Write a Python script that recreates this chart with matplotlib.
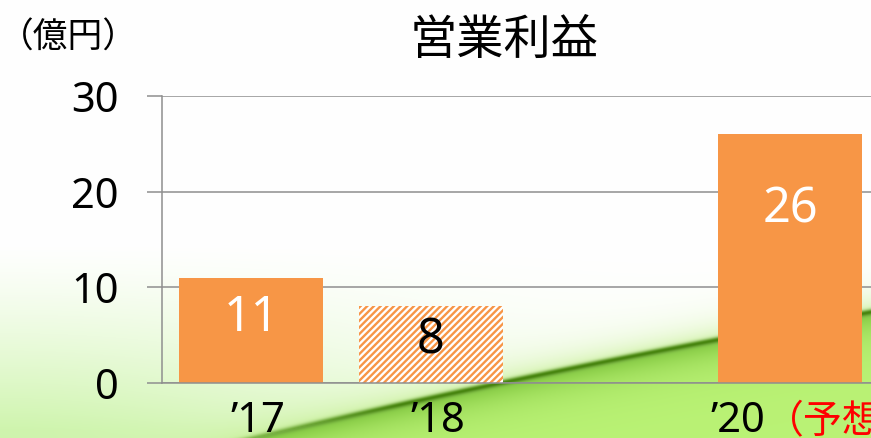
import matplotlib
matplotlib.use("Agg")
import matplotlib.pyplot as plt
import numpy as np

plt.rcParams["font.family"] = ["Noto Sans", "Noto Sans CJK JP", "DejaVu Sans"]
plt.rcParams["hatch.linewidth"] = 1.7

# Operating profit (100M yen) by fiscal year; '19 has no bar
years = ["’17", "’18", "’19", "’20"]
profit = [11, 8, np.nan, 26]
forecast_note = "（予想）"
yticks = [0, 10, 20, 30]

ORANGE = "#F79646"
GRID = "#8f8f8f"

W, H = 871, 438
fig = plt.figure(figsize=(W / 100, H / 100), dpi=100)

# green swoosh backdrop
yy, xx = np.mgrid[0:H, 0:W].astype(float)
line_y = 382 - 0.21 * (xx - 503) + 5e-5 * (xx - 503) ** 2
d = yy - line_y
img = np.ones((H, W, 3))

haze = np.clip((yy - 240) / 190, 0, 1) ** 1.3 * np.exp(-(xx / 460) ** 2)
img = img * (1 - haze[..., None]) + np.array([0.81, 0.96, 0.68]) * haze[..., None]

tint = np.where(d < 0, np.exp(np.minimum(d, 0) / 16), 0) * 0.8
img = img * (1 - tint[..., None]) + np.array([0.78, 0.94, 0.58]) * tint[..., None]

below = 1 / (1 + np.exp(-d / 1.5))
shade = np.exp(-np.maximum(d, 0) / 18)
ground = (np.array([0.73, 0.95, 0.46]) * (1 - shade[..., None])
          + np.array([0.48, 0.76, 0.22]) * shade[..., None])
img = img * (1 - below[..., None]) + ground * below[..., None]

core = np.exp(-(d / 3.0) ** 2) * np.clip((xx - 150) / 250, 0, 1)
img = img * (1 - core[..., None]) + np.array([0.28, 0.52, 0.06]) * core[..., None]

bg = fig.add_axes([0, 0, 1, 1], zorder=0)
bg.imshow(np.clip(img, 0, 1), aspect="auto", interpolation="bilinear")
bg.axis("off")

# chart area
left, bottom, top = 161.5 / W, (H - 383) / H, (H - 96) / H
ax = fig.add_axes([left, bottom, 1 - left, top - bottom], zorder=1)
ax.patch.set_alpha(0)

x = np.arange(len(years))
styles = [
    dict(color=ORANGE),
    dict(facecolor="white", edgecolor=ORANGE, hatch="/////", linewidth=0),
    dict(color=ORANGE),
    dict(color=ORANGE),
]
label_colors = ["white", "black", "white", "white"]
label_drop = [29, 24.5, 0, 54]  # points below the bar top

for i, (xi, v) in enumerate(zip(x, profit)):
    if np.isnan(v):
        continue
    ax.bar(xi, v, width=0.8, zorder=1, **styles[i])
    ax.annotate(f"{v:g}", xy=(xi, v), xytext=(0, -label_drop[i]),
                textcoords="offset points", ha="center", va="center",
                fontsize=35, color=label_colors[i])

ax.set_xlim(-0.5, 3.45)
ax.set_ylim(0, 30)
ax.set_yticks(yticks)
ax.set_xticks([])
ax.tick_params(axis="y", length=11, width=1.1, color=GRID, pad=20,
               labelsize=30, labelcolor="black")
ax.grid(axis="y", color=GRID, linewidth=1.1)
ax.set_axisbelow(True)
for s in ["top", "right"]:
    ax.spines[s].set_visible(False)
for s in ["left", "bottom"]:
    ax.spines[s].set_color(GRID)
    ax.spines[s].set_linewidth(1.1)

# category labels under the bars
xlab_tr = ax.get_xaxis_transform()
for i, (xi, v) in enumerate(zip(x, profit)):
    if np.isnan(v):
        continue
    if i == len(years) - 1:
        t = ax.annotate(years[i], xy=(xi, 0), xycoords=xlab_tr,
                        xytext=(-38, -35.5), textcoords="offset points",
                        ha="center", va="baseline", fontsize=30,
                        annotation_clip=False)
        ax.annotate(forecast_note, xy=(1, 0), xycoords=t,
                    ha="left", va="bottom", fontsize=28, color="red",
                    annotation_clip=False)
    else:
        ax.annotate(years[i], xy=(xi, 0), xycoords=xlab_tr,
                    xytext=(5, -35.5), textcoords="offset points",
                    ha="center", va="baseline", fontsize=30,
                    annotation_clip=False)

fig.text(504 / W, 1 - 41 / H, "営業利益", ha="center", va="center", fontsize=34)
fig.text(68 / W, 1 - 39 / H, "（億円）", ha="center", va="center", fontsize=25)

fig.savefig("out.png", dpi=100)
